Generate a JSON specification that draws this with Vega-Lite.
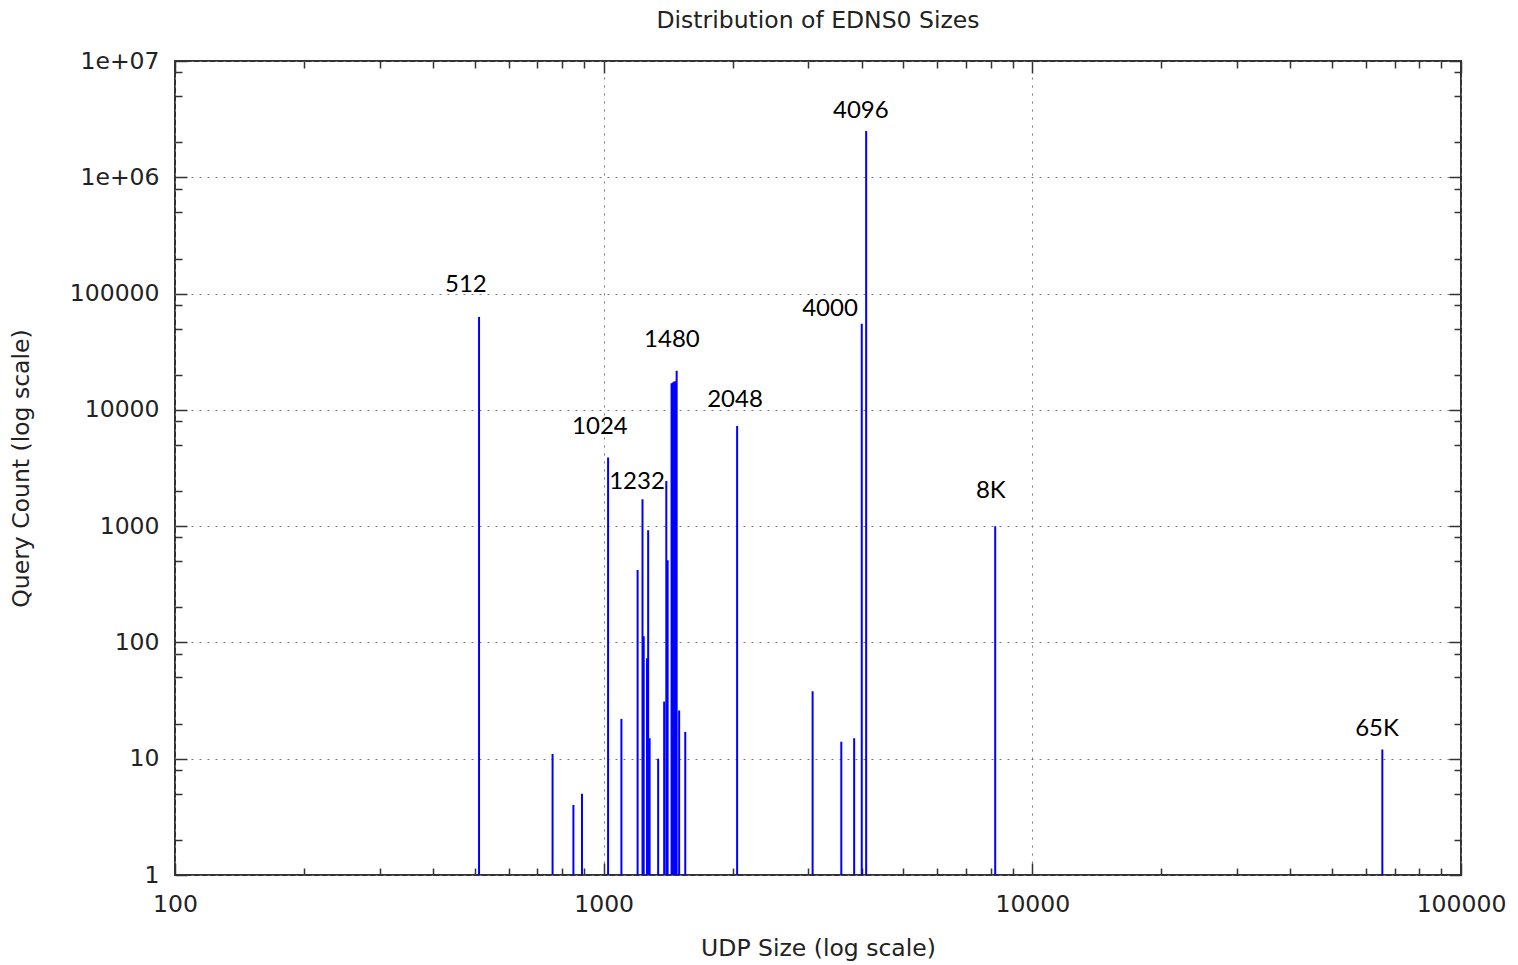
{
  "$schema": "https://vega.github.io/schema/vega-lite/v6.json",
  "width": 1286,
  "height": 814,
  "autosize": "none",
  "padding": {"left": 175, "top": 61, "right": 57, "bottom": 90},
  "background": "white",
  "title": {"text": "Distribution of EDNS0 Sizes", "font": "DejaVu Sans", "fontSize": 23.5, "fontWeight": "normal", "color": "#222", "offset": 17, "anchor": "middle"},
  "datasets": {
    "bars": [
      {"size": 512, "count": 63000},
      {"size": 760, "count": 11},
      {"size": 850, "count": 4},
      {"size": 890, "count": 5},
      {"size": 1024, "count": 3900},
      {"size": 1100, "count": 22},
      {"size": 1200, "count": 420},
      {"size": 1232, "count": 1700},
      {"size": 1240, "count": 113},
      {"size": 1262, "count": 73},
      {"size": 1270, "count": 920},
      {"size": 1280, "count": 15},
      {"size": 1340, "count": 10},
      {"size": 1384, "count": 31},
      {"size": 1400, "count": 2450},
      {"size": 1410, "count": 510},
      {"size": 1440, "count": 16900},
      {"size": 1450, "count": 17200},
      {"size": 1460, "count": 17500},
      {"size": 1472, "count": 17600},
      {"size": 1480, "count": 21700},
      {"size": 1500, "count": 26},
      {"size": 1550, "count": 17},
      {"size": 2048, "count": 7260},
      {"size": 3072, "count": 38},
      {"size": 3584, "count": 14},
      {"size": 3840, "count": 15},
      {"size": 4000, "count": 55000},
      {"size": 4096, "count": 2500000},
      {"size": 8192, "count": 1000},
      {"size": 65535, "count": 12}
    ],
    "labels": [
      {"label": "512", "lx": 477, "ly": 118000},
      {"label": "1024", "lx": 980, "ly": 7100},
      {"label": "1232", "lx": 1196, "ly": 2390},
      {"label": "1480", "lx": 1443, "ly": 39800},
      {"label": "2048", "lx": 2025, "ly": 12100},
      {"label": "4000", "lx": 3373, "ly": 73600},
      {"label": "4096", "lx": 3981, "ly": 3710000},
      {"label": "8K", "lx": 8000, "ly": 2000},
      {"label": "65K", "lx": 63700, "ly": 18}
    ]
  },
  "layer": [
    {
      "data": {"name": "bars"},
      "mark": {"type": "rule", "color": "#0000ff", "strokeWidth": 2},
      "encoding": {
        "x": {
          "field": "size", "type": "quantitative",
          "scale": {"type": "log", "domain": [100, 100000], "nice": false},
          "axis": {
            "orient": "bottom",
            "values": [100, 200, 300, 400, 500, 600, 700, 800, 900, 1000, 2000, 3000, 4000, 5000, 6000, 7000, 8000, 9000, 10000, 20000, 30000, 40000, 50000, 60000, 70000, 80000, 90000, 100000],
            "tickSize": {"condition": {"test": "abs(log(datum.value)/LN10 - round(log(datum.value)/LN10)) < 0.001", "value": -12}, "value": -7},
            "tickColor": "#333", "tickWidth": 1.5,
            "grid": true,
            "gridOpacity": {"condition": {"test": "abs(log(datum.value)/LN10 - round(log(datum.value)/LN10)) < 0.001", "value": 1}, "value": 0},
            "gridDash": [2, 6], "gridColor": "#777", "gridWidth": 1,
            "domain": false,
            "labelExpr": "abs(log(datum.value)/LN10 - round(log(datum.value)/LN10)) > 0.001 ? '' : format(datum.value, 'd')",
            "labelFont": "DejaVu Sans", "labelFontSize": 23.5, "labelColor": "#222", "labelPadding": 29,
            "labelOverlap": false, "labelFlush": false,
            "title": "UDP Size (log scale)", "titleFont": "DejaVu Sans", "titleFontSize": 23.5, "titleFontWeight": "normal", "titleColor": "#222", "titlePadding": 16
          }
        },
        "y": {
          "field": "count", "type": "quantitative",
          "scale": {"type": "log", "domain": [1, 10000000], "nice": false},
          "axis": {
            "orient": "left",
            "values": [1, 2, 5, 8, 10, 20, 50, 80, 100, 200, 500, 800, 1000, 2000, 5000, 8000, 10000, 20000, 50000, 80000, 100000, 200000, 500000, 800000, 1000000, 2000000, 5000000, 8000000, 10000000],
            "tickSize": {"condition": {"test": "abs(log(datum.value)/LN10 - round(log(datum.value)/LN10)) < 0.001", "value": -12}, "value": -7},
            "tickColor": "#333", "tickWidth": 1.5,
            "grid": true,
            "gridOpacity": {"condition": {"test": "abs(log(datum.value)/LN10 - round(log(datum.value)/LN10)) < 0.001", "value": 1}, "value": 0},
            "gridDash": [2, 6], "gridColor": "#777", "gridWidth": 1,
            "domain": false,
            "labelExpr": "abs(log(datum.value)/LN10 - round(log(datum.value)/LN10)) > 0.001 ? '' : (datum.value >= 1000000 ? '1e+0' + round(log(datum.value)/LN10) : format(datum.value, 'd'))",
            "labelFont": "DejaVu Sans", "labelFontSize": 23.5, "labelColor": "#222", "labelPadding": 28,
            "labelOverlap": false, "labelFlush": false,
            "title": "Query Count (log scale)", "titleFont": "DejaVu Sans", "titleFontSize": 23.5, "titleFontWeight": "normal", "titleColor": "#222", "titlePadding": 36
          }
        },
        "y2": {"datum": 1}
      }
    },
    {
      "data": {"name": "labels"},
      "mark": {"type": "text", "font": "Lato", "fontSize": 24, "color": "#000", "baseline": "middle", "align": "center"},
      "encoding": {
        "x": {
          "field": "lx", "type": "quantitative",
          "axis": {
            "orient": "top",
            "values": [100, 200, 300, 400, 500, 600, 700, 800, 900, 1000, 2000, 3000, 4000, 5000, 6000, 7000, 8000, 9000, 10000, 20000, 30000, 40000, 50000, 60000, 70000, 80000, 90000, 100000],
            "tickSize": {"condition": {"test": "abs(log(datum.value)/LN10 - round(log(datum.value)/LN10)) < 0.001", "value": -12}, "value": -7},
            "tickColor": "#333", "tickWidth": 1.5,
            "grid": false, "domain": false, "labels": false, "title": null
          }
        },
        "y": {
          "field": "ly", "type": "quantitative",
          "axis": {
            "orient": "right",
            "values": [1, 2, 5, 8, 10, 20, 50, 80, 100, 200, 500, 800, 1000, 2000, 5000, 8000, 10000, 20000, 50000, 80000, 100000, 200000, 500000, 800000, 1000000, 2000000, 5000000, 8000000, 10000000],
            "tickSize": {"condition": {"test": "abs(log(datum.value)/LN10 - round(log(datum.value)/LN10)) < 0.001", "value": -12}, "value": -7},
            "tickColor": "#333", "tickWidth": 1.5,
            "grid": false, "domain": false, "labels": false, "title": null
          }
        },
        "text": {"field": "label"}
      }
    }
  ],
  "resolve": {"axis": {"x": "independent", "y": "independent"}},
  "config": {"view": {"stroke": "#333", "strokeWidth": 2}}
}
